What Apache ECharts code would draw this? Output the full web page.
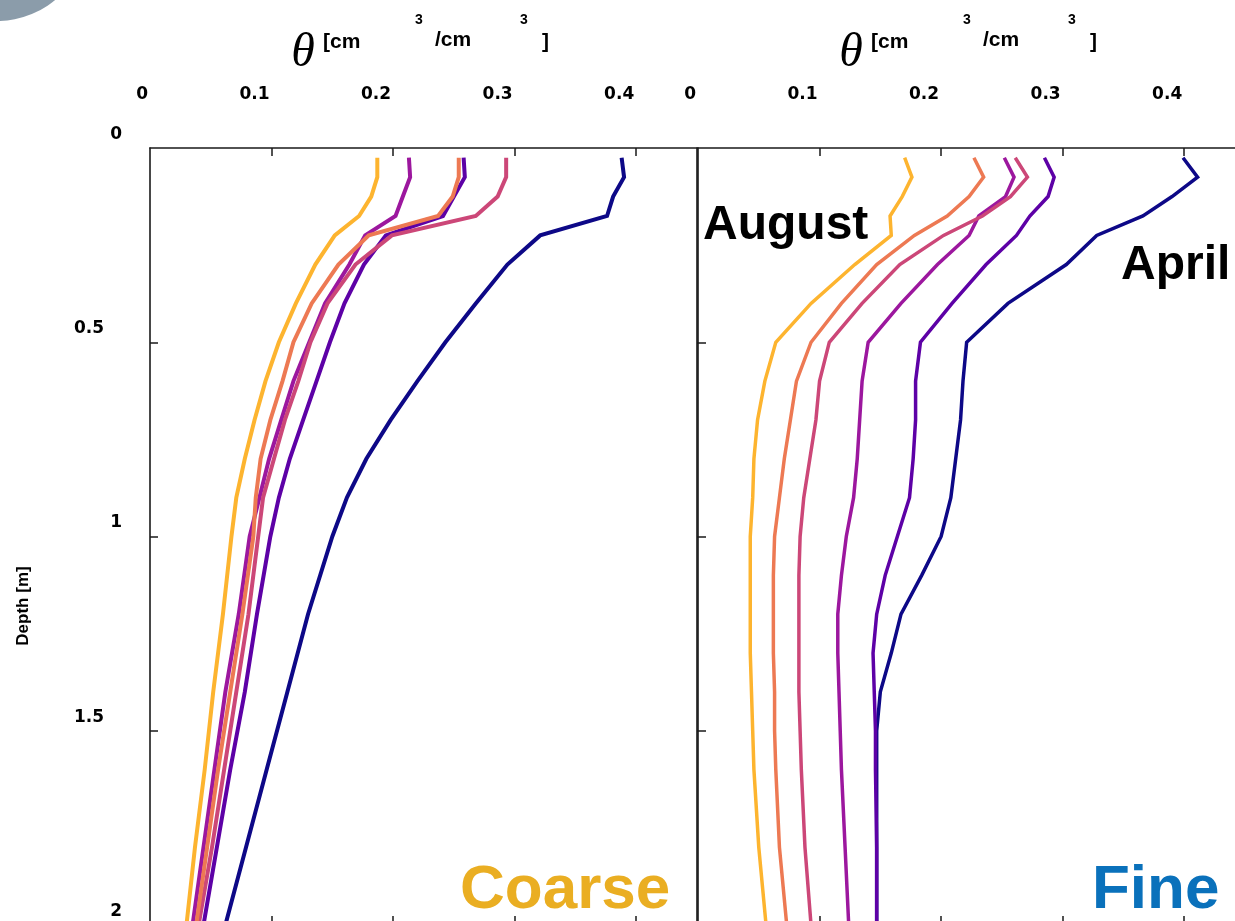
<!DOCTYPE html>
<html>
<head>
<meta charset="utf-8">
<script src="https://cdn.jsdelivr.net/npm/echarts@6/dist/echarts.min.js"></script>
<style>
  html, body { margin: 0; padding: 0; background: #ffffff; }
  #chart { width: 1235px; height: 921px; }
</style>
</head>
<body>
<div id="chart"></div>
<script>
// Soil water content profiles, theta [cm3/cm3] against depth [m].
// Six profiles per soil, P1 = April ... P6 = August.

const coarseDepth = [0.025, 0.075, 0.125, 0.175, 0.225, 0.3, 0.4, 0.5, 0.6, 0.7, 0.8, 0.9, 1.0, 1.2, 1.4, 1.6, 1.8, 2.0];
const coarseP1 = [0.388, 0.390, 0.381, 0.376, 0.321, 0.294, 0.268, 0.243, 0.220, 0.198, 0.178, 0.162, 0.150, 0.130, 0.113, 0.096, 0.079, 0.062];
const coarseP2 = [0.258, 0.259, 0.250, 0.241, 0.194, 0.176, 0.160, 0.148, 0.137, 0.126, 0.115, 0.106, 0.099, 0.088, 0.078, 0.066, 0.055, 0.044];
const coarseP3 = [0.213, 0.214, 0.208, 0.202, 0.177, 0.164, 0.144, 0.131, 0.118, 0.108, 0.098, 0.090, 0.082, 0.073, 0.062, 0.053, 0.044, 0.035];
const coarseP4 = [0.293, 0.293, 0.286, 0.268, 0.199, 0.169, 0.146, 0.132, 0.122, 0.111, 0.102, 0.093, 0.089, 0.081, 0.071, 0.061, 0.051, 0.040];
const coarseP5 = [0.254, 0.254, 0.249, 0.237, 0.180, 0.155, 0.133, 0.118, 0.109, 0.099, 0.091, 0.087, 0.085, 0.076, 0.066, 0.056, 0.047, 0.038];
const coarseP6 = [0.187, 0.187, 0.182, 0.172, 0.152, 0.136, 0.120, 0.106, 0.095, 0.086, 0.078, 0.071, 0.067, 0.060, 0.052, 0.045, 0.037, 0.030];

const fineDepth = [0.025, 0.075, 0.125, 0.175, 0.225, 0.3, 0.4, 0.5, 0.6, 0.7, 0.8, 0.9, 1.0, 1.1, 1.2, 1.3, 1.4, 1.5, 1.6, 1.8, 2.0];
const fineP1 = [0.399, 0.411, 0.390, 0.366, 0.328, 0.303, 0.255, 0.221, 0.218, 0.216, 0.212, 0.208, 0.200, 0.184, 0.167, 0.159, 0.150, 0.147, 0.147, 0.147, 0.147];
const fineP2 = [0.285, 0.293, 0.288, 0.273, 0.262, 0.237, 0.209, 0.183, 0.179, 0.179, 0.177, 0.174, 0.164, 0.154, 0.147, 0.144, 0.145, 0.146, 0.146, 0.147, 0.147];
const fineP3 = [0.252, 0.260, 0.253, 0.231, 0.223, 0.197, 0.167, 0.140, 0.135, 0.133, 0.131, 0.128, 0.122, 0.118, 0.115, 0.115, 0.116, 0.117, 0.118, 0.121, 0.124];
const fineP4 = [0.261, 0.271, 0.257, 0.234, 0.202, 0.166, 0.135, 0.108, 0.100, 0.097, 0.092, 0.087, 0.084, 0.083, 0.083, 0.083, 0.083, 0.084, 0.085, 0.088, 0.093];
const fineP5 = [0.227, 0.235, 0.223, 0.205, 0.178, 0.147, 0.118, 0.093, 0.081, 0.076, 0.071, 0.067, 0.063, 0.062, 0.062, 0.062, 0.063, 0.063, 0.064, 0.067, 0.073];
const fineP6 = [0.170, 0.176, 0.168, 0.158, 0.159, 0.129, 0.093, 0.064, 0.055, 0.049, 0.046, 0.045, 0.043, 0.043, 0.043, 0.043, 0.044, 0.045, 0.046, 0.050, 0.056];

const profileColors = ['#0D0887', '#5D01A6', '#9C179E', '#CC4778', '#ED7953', '#FDB42F'];
const profileNames = ['P1', 'P2', 'P3', 'P4', 'P5', 'P6'];

const xTicks = [0, 0.1, 0.2, 0.3, 0.4];
const xTickLabels = ['0', '0.1', '0.2', '0.3', '0.4'];
const yTicks = [0, 0.5, 1, 1.5, 2];
const yTickLabels = ['0', '0.5', '1', '1.5', '2'];

const AXIS_COLOR = '#1a1a1a';
const TICK_FONT = { fontFamily: 'DejaVu Sans', fontWeight: 'bold', fontSize: 17, color: '#000' };

function labelFor(list, labels, v) {
  const i = list.findIndex(t => Math.abs(t - v) < 1e-9);
  return i >= 0 ? labels[i] : '';
}

function topAxis(g) {
  return {
    type: 'value', gridIndex: g, position: 'top', min: 0, max: 0.45,
    axisLine: { show: true, onZero: false, lineStyle: { color: AXIS_COLOR, width: 1.6 } },
    axisTick: { show: true, inside: true, length: 8, customValues: xTicks.slice(1), lineStyle: { color: AXIS_COLOR, width: 1.5 } },
    axisLabel: Object.assign({
      show: true, customValues: xTicks, align: 'right', margin: 45, padding: [0, 2, 0, 0],
      formatter: v => labelFor(xTicks, xTickLabels, v)
    }, TICK_FONT),
    splitLine: { show: false }
  };
}

function bottomAxis(g) {
  return {
    type: 'value', gridIndex: g, position: 'bottom', min: 0, max: 0.45,
    axisLine: { show: true, onZero: false, lineStyle: { color: AXIS_COLOR, width: 1.6 } },
    axisTick: { show: true, inside: true, length: 9, customValues: xTicks.slice(1), lineStyle: { color: AXIS_COLOR, width: 1.5 } },
    axisLabel: { show: false },
    splitLine: { show: false }
  };
}

function depthAxis(g, position, withLabels, tickInside) {
  return {
    type: 'value', gridIndex: g, position: position, inverse: true, min: 0, max: 2,
    axisLine: { show: true, onZero: false, lineStyle: { color: AXIS_COLOR, width: 1.6 } },
    axisTick: { show: true, inside: tickInside, length: 8, customValues: [0.5, 1, 1.5], lineStyle: { color: AXIS_COLOR, width: 1.5 } },
    axisLabel: withLabels ? Object.assign({
      show: true, customValues: yTicks, align: 'right', margin: 28, padding: [0, 0, 27, 0],
      formatter: v => {
        const s = labelFor(yTicks, yTickLabels, v);
        return s.indexOf('.') >= 0 ? '{d|' + s + '}' : '{i|' + s + '}';
      },
      rich: {
        d: Object.assign({ padding: [0, 18, 0, 0] }, TICK_FONT),
        i: Object.assign({}, TICK_FONT)
      }
    }, TICK_FONT) : { show: false },
    splitLine: { show: false }
  };
}

function profileSeries(depths, values, i, axisIdx, width) {
  return {
    type: 'line', name: profileNames[i],
    xAxisIndex: axisIdx, yAxisIndex: axisIdx,
    data: depths.map((d, k) => [values[k], d]),
    showSymbol: false, symbol: 'none', silent: true,
    lineStyle: { color: profileColors[i], width: width, join: 'miter' },
    itemStyle: { color: profileColors[i] },
    z: 3
  };
}

// θ [cm³/cm³] heading above each panel, positioned from the panel's left edge
function unitHeading(x0) {
  const sans = '"Liberation Sans", Arial, sans-serif';
  return [
    { type: 'text', x: x0 + 153, y: 53, style: { text: 'θ', font: 'italic 48px "Liberation Serif", "Times New Roman", serif', fill: '#000', align: 'center', verticalAlign: 'middle' } },
    { type: 'text', x: x0 + 173, y: 42, style: { text: '[cm', font: 'bold 21px ' + sans, fill: '#000', align: 'left', verticalAlign: 'middle' } },
    { type: 'text', x: x0 + 265, y: 20, style: { text: '3', font: 'bold 14px ' + sans, fill: '#000', align: 'left', verticalAlign: 'middle' } },
    { type: 'text', x: x0 + 285, y: 40, style: { text: '/cm', font: 'bold 21px ' + sans, fill: '#000', align: 'left', verticalAlign: 'middle' } },
    { type: 'text', x: x0 + 370, y: 20, style: { text: '3', font: 'bold 14px ' + sans, fill: '#000', align: 'left', verticalAlign: 'middle' } },
    { type: 'text', x: x0 + 392, y: 42, style: { text: ']', font: 'bold 21px ' + sans, fill: '#000', align: 'left', verticalAlign: 'middle' } }
  ];
}

const coarseSets = [coarseP1, coarseP2, coarseP3, coarseP4, coarseP5, coarseP6];
const fineSets = [fineP1, fineP2, fineP3, fineP4, fineP5, fineP6];

const series = [];
coarseSets.forEach((vals, i) => series.push(profileSeries(coarseDepth, vals, i, 0, 4)));
fineSets.forEach((vals, i) => series.push(profileSeries(fineDepth, vals, i, 1, 3.5)));

const bigSans = '"Liberation Sans", Arial, sans-serif';

const option = {
  backgroundColor: '#ffffff',
  animation: false,
  grid: [
    { left: 150, top: 148, width: 547, height: 777, containLabel: false, outerBoundsMode: 'none' },
    { left: 698, top: 148, width: 547, height: 777, containLabel: false, outerBoundsMode: 'none' }
  ],
  xAxis: [topAxis(0), topAxis(1), bottomAxis(0), bottomAxis(1)],
  yAxis: [
    depthAxis(0, 'left', true, true),
    depthAxis(1, 'left', false, true),
    depthAxis(0, 'right', false, false)
  ],
  series: series,
  graphic: [
    { type: 'circle', shape: { cx: -3, cy: -70, r: 91 }, style: { fill: '#8b9caa' }, z: 1 },
    ...unitHeading(150),
    ...unitHeading(698),
    { type: 'text', x: 23, y: 606, rotation: Math.PI / 2,
      style: { text: 'Depth [m]', font: 'bold 17px ' + bigSans, fill: '#000', align: 'center', verticalAlign: 'middle' } },
    { type: 'text', x: 703, y: 226, z: 10,
      style: { text: 'August', font: 'bold 48px ' + bigSans, fill: '#000', align: 'left', verticalAlign: 'middle' } },
    { type: 'text', x: 1121, y: 266, z: 10,
      style: { text: 'April', font: 'bold 48px ' + bigSans, fill: '#000', align: 'left', verticalAlign: 'middle' } },
    { type: 'text', x: 460, y: 891, z: 10,
      style: { text: 'Coarse', font: 'bold 62px ' + bigSans, fill: '#EAAE22', align: 'left', verticalAlign: 'middle' } },
    { type: 'text', x: 1092, y: 891, z: 10,
      style: { text: 'Fine', font: 'bold 62px ' + bigSans, fill: '#0A71BB', align: 'left', verticalAlign: 'middle' } }
  ]
};

const chart = echarts.init(document.getElementById('chart'), null, { renderer: 'canvas', width: 1235, height: 921 });
chart.setOption(option);
</script>
</body>
</html>
